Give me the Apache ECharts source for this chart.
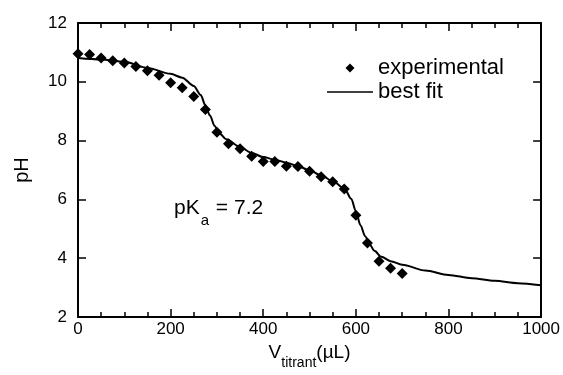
<!DOCTYPE html>
<html>
<head>
<meta charset="utf-8">
<script src="https://cdn.jsdelivr.net/npm/echarts@6/dist/echarts.min.js"></script>
<style>
  html, body { margin: 0; padding: 0; background: #fff; }
  #chart { width: 563px; height: 375px; }
</style>
</head>
<body>
<div id="chart"></div>
<script>
// Titration data: titrant volume (µL) and measured pH
var expVolume = [0, 25, 50, 75, 100, 125, 150, 175, 200, 225, 250, 275, 300, 325, 350,
                 375, 400, 425, 450, 475, 500, 525, 550, 575, 600, 625, 650, 675, 700];
var expPH = [10.95, 10.93, 10.81, 10.72, 10.64, 10.52, 10.38, 10.22, 9.97, 9.80, 9.50, 9.06, 8.28, 7.89, 7.72,
             7.47, 7.29, 7.29, 7.13, 7.12, 6.96, 6.77, 6.60, 6.35, 5.46, 4.52, 3.90, 3.66, 3.48];

// Best-fit titration curve
var fitVolume = [0, 50, 100, 150, 200, 225, 250, 265, 275, 285, 295, 305, 320, 350, 375, 400, 425, 450, 475,
                 500, 525, 550, 575, 590, 600, 610, 620, 630, 640, 655, 675, 700, 750, 800, 850, 900, 950, 1000];
var fitPH = [10.81, 10.76, 10.68, 10.47, 10.27, 10.14, 9.86, 9.55, 9.20, 8.85, 8.50, 8.25, 8.05, 7.78, 7.58, 7.44, 7.35, 7.25, 7.13,
             6.99, 6.82, 6.62, 6.38, 6.02, 5.60, 5.12, 4.75, 4.47, 4.25, 4.05, 3.90, 3.78, 3.58, 3.43, 3.32, 3.23, 3.15, 3.08];

var xTicks = { min: 0, max: 1000, interval: 200 };
var yTicks = { min: 2, max: 12, interval: 2 };
var seriesNames = ['experimental', 'best fit'];
var pKaLabel = { prefix: 'pK', sub: 'a', suffix: ' = 7.2' };

function zip(xs, ys) {
  return xs.map(function (x, i) { return [x, ys[i]]; });
}

var FONT = 'Liberation Sans, Arial, sans-serif';
var BLACK = '#000';

// Legend icons drawn inside a 46x9 box so the aspect ratio is kept
var DIAMOND_ICON = 'path://M0,4.5L0.001,4.5ZM46,4.5L45.999,4.5ZM18.5,4.5L23,0L27.5,4.5L23,9Z';
var LINE_ICON = 'path://M0,3.75L46,3.75L46,5.25L0,5.25Z';

var chart = echarts.init(document.getElementById('chart'), null, { renderer: 'canvas' });

function xAxisCfg(pos, showLabel) {
  return {
    type: 'value',
    position: pos,
    min: xTicks.min, max: xTicks.max, interval: xTicks.interval,
    axisLine: { show: true, onZero: false, lineStyle: { color: BLACK, width: 2 } },
    axisTick: { show: true, inside: true, length: 8, lineStyle: { color: BLACK, width: 1.5 } },
    minorTick: { show: true, splitNumber: 4, length: 5, lineStyle: { color: BLACK, width: 1.5 } },
    splitLine: { show: false },
    axisLabel: {
      show: showLabel, color: BLACK, fontSize: 17, fontFamily: FONT, margin: 4,
      formatter: function (v) { return String(v); }
    }
  };
}
function yAxisCfg(pos, showLabel) {
  return {
    type: 'value',
    position: pos,
    min: yTicks.min, max: yTicks.max, interval: yTicks.interval,
    axisLine: { show: true, onZero: false, lineStyle: { color: BLACK, width: 2 } },
    axisTick: { show: true, inside: true, length: 8, lineStyle: { color: BLACK, width: 1.5 } },
    splitLine: { show: false },
    axisLabel: { show: showLabel, color: BLACK, fontSize: 17, fontFamily: FONT, margin: 11 }
  };
}

var xBottom = xAxisCfg('bottom', true);
xBottom.name = '{v|V}{s|titrant}{v|(µL)}';
xBottom.nameLocation = 'middle';
xBottom.nameGap = 24;
xBottom.nameTextStyle = {
  color: BLACK, fontFamily: FONT,
  rich: {
    v: { fontSize: 19, fontFamily: FONT, color: BLACK, verticalAlign: 'top', lineHeight: 20 },
    s: { fontSize: 14, fontFamily: FONT, color: BLACK, verticalAlign: 'top', lineHeight: 14, padding: [13, 0, 0, 0] }
  }
};

var yLeft = yAxisCfg('left', true);
yLeft.name = 'pH';
yLeft.nameLocation = 'middle';
yLeft.nameGap = 46;
yLeft.nameTextStyle = { color: BLACK, fontSize: 20, fontFamily: FONT };

var option = {
  animation: false,
  backgroundColor: '#fff',
  grid: { left: 78, right: 20, top: 23, bottom: 58, containLabel: false },
  xAxis: [xBottom, xAxisCfg('top', false)],
  yAxis: [yLeft, yAxisCfg('right', false)],
  legend: {
    data: [
      { name: seriesNames[0], icon: DIAMOND_ICON, itemStyle: { color: BLACK, opacity: 1 } },
      { name: seriesNames[1], icon: LINE_ICON, itemStyle: { color: BLACK, opacity: 1 } }
    ],
    orient: 'vertical',
    left: 327,
    top: 57,
    itemWidth: 46,
    itemHeight: 9,
    itemGap: 2,
    padding: 0,
    textStyle: { color: BLACK, fontSize: 22, fontFamily: FONT, lineHeight: 22 }
  },
  series: [
    {
      name: seriesNames[0],
      type: 'scatter',
      xAxisIndex: 0, yAxisIndex: 0,
      symbol: 'diamond',
      symbolSize: 11,
      itemStyle: { color: BLACK, opacity: 1 },
      data: zip(expVolume, expPH),
      z: 3
    },
    {
      name: seriesNames[1],
      type: 'line',
      xAxisIndex: 0, yAxisIndex: 0,
      symbol: 'none',
      smooth: 0.3,
      smoothMonotone: 'x',
      lineStyle: { color: BLACK, width: 2 },
      itemStyle: { color: BLACK },
      data: zip(fitVolume, fitPH),
      z: 2
    }
  ],
  graphic: [
    {
      type: 'text',
      left: 174,
      top: 198,
      style: {
        text: '{m|' + pKaLabel.prefix + '}{s|' + pKaLabel.sub + '}{m|' + pKaLabel.suffix + '}',
        rich: {
          m: { fontSize: 21, fontFamily: FONT, fill: BLACK, verticalAlign: 'top', lineHeight: 22 },
          s: { fontSize: 15, fontFamily: FONT, fill: BLACK, verticalAlign: 'top', lineHeight: 15, padding: [15, 1, 0, 1] }
        }
      }
    }
  ]
};

chart.setOption(option);
</script>
</body>
</html>
